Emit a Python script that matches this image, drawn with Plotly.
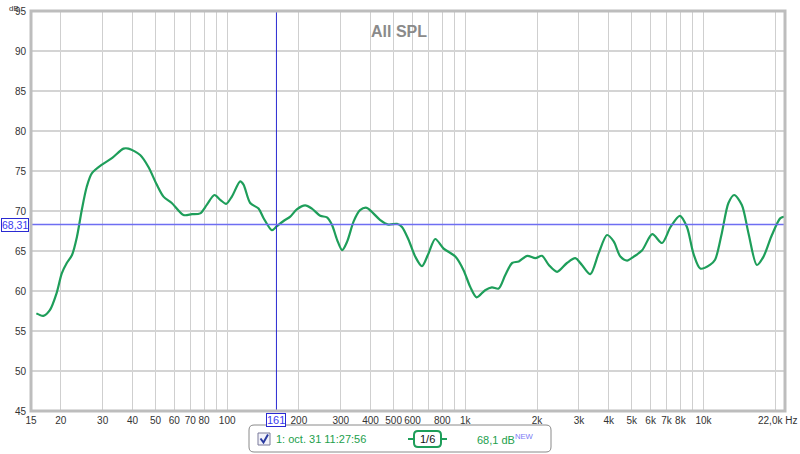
import plotly.graph_objects as go
import math

# ---------------- data ----------------
freq_hz = [15.8, 16.9, 18.0, 19.2, 20.2, 21.2, 22.3, 23.4, 24.5, 25.7, 27.0, 29.8, 32.8,
           36.7, 38.5, 43.1, 46.7, 50.6, 54.0, 58.5, 65.5, 71.1, 77.0, 82.2, 88.4, 93.5,
           99.0, 104.6, 113.4, 117.1, 124.9, 135.4, 142.2, 154, 161.7, 172.5, 184, 196,
           212.5, 226.8, 245.9, 262.4, 275.6, 289.4, 303.9, 319.2, 339.6, 361.3, 385.4,
           411, 438, 475.6, 516.5, 542, 577.5, 616, 657.5, 700.5, 747.6, 811, 908, 983,
           1049, 1116, 1211, 1293, 1380, 1472, 1572, 1677, 1819, 1970, 2098, 2242, 2429,
           2672, 2895, 3088, 3348, 3628, 3935, 4197, 4479, 4780, 5100, 5530, 6096, 6700,
           7272, 7960, 8523, 9092, 9700, 10683, 11188, 11936, 12732, 13462, 14494, 15461,
           16759, 17875, 19384, 21040, 22000]
spl_db = [57.2, 56.9, 57.6, 59.7, 62.2, 63.5, 64.5, 66.8, 70.1, 73.0, 74.7, 75.8, 76.6,
          77.8, 77.8, 77.0, 75.5, 73.3, 71.8, 71.0, 69.5, 69.6, 69.7, 70.8, 72.0, 71.4,
          70.9, 71.8, 73.7, 73.3, 71.0, 70.3, 69.1, 67.6, 68.1, 68.75, 69.3, 70.2,
          70.7, 70.3, 69.4, 69.2, 68.25, 66.4, 65.1, 66.2, 68.7, 70.1, 70.4,
          69.7, 68.9, 68.3, 68.4, 68.0, 66.4, 64.3, 63.1, 64.7, 66.5, 65.3, 64.3, 62.6,
          60.5, 59.2, 60.1, 60.45, 60.3, 62.0, 63.5, 63.7, 64.4, 64.1, 64.4, 63.25, 62.4,
          63.5, 64.1, 63.25, 62.1, 64.7, 67.0, 66.2, 64.3, 63.8, 64.3, 65.1, 67.1, 66.0,
          68.0, 69.4, 68.0, 64.6, 62.8, 63.3, 63.9, 67.2, 71.0, 72.0, 70.75, 67.2,
          63.25, 64.3, 67.0, 69.1, 69.3]

x_tick_vals = [15, 20, 30, 40, 50, 60, 70, 80, 90, 100, 200, 300, 400, 500, 600, 700, 800,
               900, 1000, 2000, 3000, 4000, 5000, 6000, 7000, 8000, 9000, 10000, 20000]
x_tick_text = ["15", "20", "30", "40", "50", "60", "70", "80", " ", "100", "200", "300", "400",
               "500", "600", " ", "800", " ", "1k", "2k", "3k", "4k", "5k", "6k", "7k", "8k",
               " ", "10k", " "]
x_end_label = "22,0k Hz"
y_tick_vals = [45, 50, 55, 60, 65, 70, 75, 80, 85, 90, 95]
y_tick_text = ["45", "50", "55", "60", "65", "70", "75", "80", "85", "90", "95"]

title_text = "All SPL"
cursor_freq = 161
cursor_level = 68.31
cursor_freq_text = "161"
cursor_level_text = "68,31"
legend_name = "1: oct. 31 11:27:56"
legend_smooth = "1/6"
legend_level = "68,1 dB"
legend_tag = "NEW"

# ---------------- layout geometry ----------------
W, H = 800, 454
L, R, T, B = 31, 785, 11, 411
PW, PH = R - L, B - T


def px(x):
    return (x - L) / PW


def py(y):
    return (B - y) / PH


GREEN = "#1e9e5a"
TXTGREEN = "#22a04c"
BLUE_V = "#2a2ad2"
BLUE_H = "#6e6ef2"
FONT = "Liberation Sans"

fig = go.Figure()
fig.add_trace(go.Scatter(
    x=freq_hz, y=spl_db, mode="lines",
    line=dict(color=GREEN, width=2.2, shape="spline", smoothing=0.8),
    hoverinfo="skip", showlegend=False,
))

shapes = []
# cursor lines
shapes.append(dict(type="line", xref="x", yref="paper", x0=cursor_freq, x1=cursor_freq,
                   y0=0, y1=1, line=dict(color=BLUE_V, width=1), layer="above"))
shapes.append(dict(type="line", xref="paper", yref="y", x0=0, x1=1, y0=cursor_level,
                   y1=cursor_level, line=dict(color=BLUE_H, width=1.6), layer="above"))
# frame
shapes.append(dict(type="rect", xref="paper", yref="paper", x0=0, x1=1, y0=0, y1=1,
                   line=dict(color="#bdbdbd", width=3), layer="above"))


def rounded(x0, y0, x1, y1, r):
    return (f"M {px(x0 + r)} {py(y0)} L {px(x1 - r)} {py(y0)} "
            f"Q {px(x1)} {py(y0)} {px(x1)} {py(y0 + r)} "
            f"L {px(x1)} {py(y1 - r)} Q {px(x1)} {py(y1)} {px(x1 - r)} {py(y1)} "
            f"L {px(x0 + r)} {py(y1)} Q {px(x0)} {py(y1)} {px(x0)} {py(y1 - r)} "
            f"L {px(x0)} {py(y0 + r)} Q {px(x0)} {py(y0)} {px(x0 + r)} {py(y0)} Z")


# legend box
shapes.append(dict(type="path", xref="paper", yref="paper", path=rounded(249, 425, 551, 452, 5),
                   line=dict(color="#8a8a8a", width=1), fillcolor="white"))
# checkbox
shapes.append(dict(type="rect", xref="paper", yref="paper", x0=px(258), x1=px(270),
                   y0=py(445), y1=py(433), line=dict(color="#7a7a9a", width=1),
                   fillcolor="#f2f2fa"))
shapes.append(dict(type="path", xref="paper", yref="paper",
                   path=f"M {px(260.5)} {py(438.5)} L {px(263.5)} {py(442.5)} L {px(268)} {py(434.5)}",
                   line=dict(color="#2a3aa0", width=2)))
# 1/6 smoothing badge
shapes.append(dict(type="line", xref="paper", yref="paper", x0=px(408), x1=px(415),
                   y0=py(439), y1=py(439), line=dict(color=GREEN, width=2)))
shapes.append(dict(type="line", xref="paper", yref="paper", x0=px(440), x1=px(447),
                   y0=py(439), y1=py(439), line=dict(color=GREEN, width=2)))
shapes.append(dict(type="path", xref="paper", yref="paper", path=rounded(414, 431, 441, 447, 4),
                   line=dict(color=GREEN, width=2), fillcolor="white"))

annotations = []
annotations.append(dict(text=f"<b>{title_text}</b>", xref="paper", yref="paper",
                        x=px(399), y=py(21), showarrow=False,
                        font=dict(family=FONT, size=16, color="#8a8a8a")))
annotations.append(dict(text="dB", xref="paper", yref="paper", x=px(8), y=py(3),
                        showarrow=False, borderpad=0,
                        font=dict(family=FONT, size=8, color="#333")))
annotations.append(dict(text=x_end_label, xref="paper", yref="paper", x=px(799), y=py(420),
                        xanchor="right", yanchor="middle", showarrow=False,
                        font=dict(family=FONT, size=10, color="#333")))
annotations.append(dict(text=cursor_level_text, xref="paper", yref="y", x=px(29),
                        y=cursor_level, xanchor="right", yanchor="middle", showarrow=False,
                        bordercolor=BLUE_V, borderwidth=1, borderpad=0, bgcolor="white",
                        font=dict(family=FONT, size=10.5, color="#3a3af0")))
annotations.append(dict(text=cursor_freq_text, xref="x", yref="paper",
                        x=math.log10(cursor_freq), y=py(413), xanchor="center",
                        yanchor="top", showarrow=False,
                        bordercolor=BLUE_V, borderwidth=1, borderpad=0, bgcolor="white",
                        font=dict(family=FONT, size=11, color="#3a3af0")))
annotations.append(dict(text=legend_name, xref="paper", yref="paper", x=px(274), y=py(439),
                        xanchor="left", yanchor="middle", showarrow=False,
                        font=dict(family=FONT, size=11, color=TXTGREEN)))
annotations.append(dict(text=legend_smooth, xref="paper", yref="paper", x=px(427.5), y=py(439),
                        xanchor="center", yanchor="middle", showarrow=False,
                        font=dict(family=FONT, size=11, color="#111")))
annotations.append(dict(text=f"{legend_level}<sup><span style='color:#7b7bf5'>{legend_tag}</span></sup>",
                        xref="paper", yref="paper", x=px(475), y=py(439),
                        xanchor="left", yanchor="middle", showarrow=False,
                        font=dict(family=FONT, size=11, color=TXTGREEN)))

fig.update_layout(
    width=W, height=H,
    margin=dict(l=L, r=W - R, t=T, b=H - B, pad=0, autoexpand=False),
    paper_bgcolor="white", plot_bgcolor="white",
    showlegend=False,
    shapes=shapes, annotations=annotations,
    font=dict(family=FONT, size=10, color="#333"),
)
fig.update_xaxes(type="log", range=[math.log10(15), math.log10(22000)],
                 tickvals=x_tick_vals, ticktext=x_tick_text, showgrid=True,
                 gridcolor="#cfcfcf", gridwidth=1, zeroline=False, showline=False,
                 ticks="", tickangle=0, automargin=False, ticklabelstandoff=2,
                 tickfont=dict(family=FONT, size=10, color="#333"))
fig.update_yaxes(range=[45, 95], tickvals=y_tick_vals, ticktext=y_tick_text,
                 showgrid=True, gridcolor="#d4d4d4", gridwidth=1.5, zeroline=False,
                 showline=False, ticks="", automargin=False, ticklabelstandoff=4,
                 tickfont=dict(family=FONT, size=10, color="#333"))

fig.write_html("out.html", config={"displayModeBar": False},
               post_script="document.body.style.margin='0';document.body.style.overflow='hidden';")
